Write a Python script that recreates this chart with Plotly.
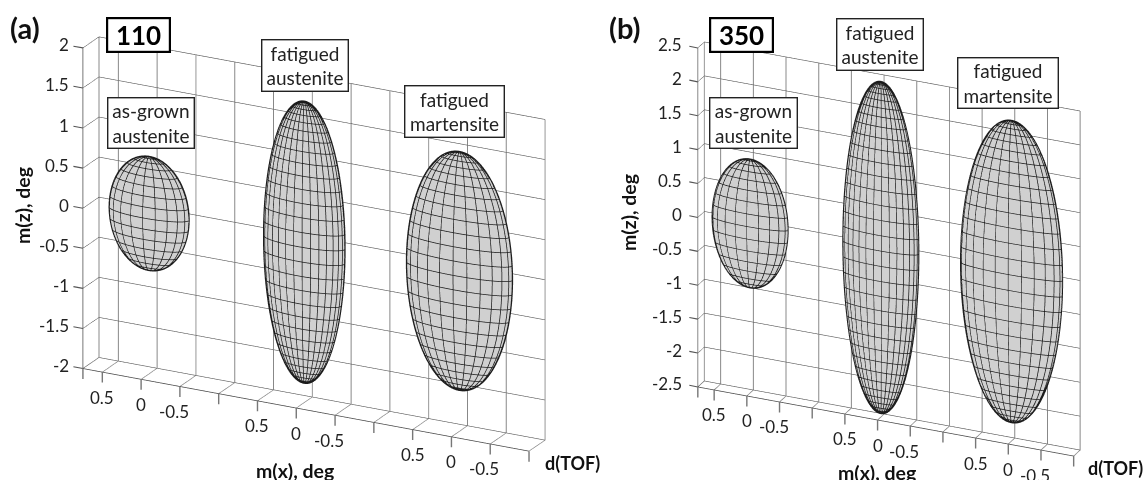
import numpy as np
import plotly.graph_objects as go

# ---- data ----
X_TICK_POS = [0, 0.5, 1.5, 2.5, 3.5, 4.5, 5.5, 6.5, 7.5, 8.5, 9.5, 10.5, 11.5]
X_TICK_TXT = ["", "0.5", "0", "-0.5", "", "0.5", "0", "-0.5", "", "0.5", "0", "-0.5", ""]
X_RANGE = [0, 11.5]
PHASES = ["as-grown austenite", "fatigued austenite", "fatigued martensite"]
CENTER_U = [1.5, 5.5, 9.5]

Z_TICKS_A = [2, 1.5, 1, 0.5, 0, -0.5, -1, -1.5, -2]
SEMI_MX_A = [0.51, 0.52, 0.68]      # half width, deg
SEMI_MZ_A = [0.71, 1.76, 1.49]      # half height, deg

Z_TICKS_B = [2.5, 2, 1.5, 1, 0.5, 0, -0.5, -1, -1.5, -2, -2.5]
SEMI_MX_B = [0.58, 0.58, 0.78]
SEMI_MZ_B = [0.95, 2.45, 2.23]

N_LAT_A = [16, 30, 26]
N_LON_A = [20, 30, 24]
N_LAT_B = [16, 34, 30]
N_LON_B = [20, 30, 24]

FONT = "Lato"
LINE = "#1c1c1c"

EYE_A = np.array([0.430, -0.829, 0.357]) * 3
EYE_B = np.array([0.372, -0.832, 0.411]) * 3
ASPECT_A = np.array([1.464, 0.1016, 1]) * 1.4545
ASPECT_B = np.array([1.107, 0.0429, 1]) * 1.61


def ellipsoid(theta, phi, uc, rx, ry, rz, shrink=1.0):
    theta, phi = np.broadcast_arrays(theta, phi)
    z = rz * np.cos(theta) * shrink
    x = uc + 2 * rx * shrink * np.sin(theta) * np.cos(phi)
    y = 0.5 + ry * shrink * np.sin(theta) * np.sin(phi)
    return x, y, z


def add_ellipsoid(fig, scene, uc, rx, ry, rz, nlat, nlon, aspect, eye, zspan):
    th, ph = np.meshgrid(np.linspace(0, np.pi, 61), np.linspace(0, 2 * np.pi, 121), indexing="ij")
    x, y, z = ellipsoid(th, ph, uc, rx, ry, rz, 0.985)
    fig.add_trace(go.Surface(
        x=x, y=y, z=z, scene=scene, showscale=False, hoverinfo="skip",
        colorscale=[[0, "#d0d0d0"], [1, "#d0d0d0"]],
        lighting=dict(ambient=1, diffuse=0, specular=0, roughness=1, fresnel=0),
    ))
    lx, ly, lz = [], [], []
    t = np.linspace(0, np.pi, 81)
    for p in np.linspace(0, 2 * np.pi, nlon, endpoint=False):
        a, b, c = ellipsoid(t, p, uc, rx, ry, rz)
        lx += a.tolist() + [None]; ly += b.tolist() + [None]; lz += c.tolist() + [None]
    p = np.linspace(0, 2 * np.pi, 121)
    for k in range(1, nlat):
        a, b, c = ellipsoid(np.pi * k / nlat, p, uc, rx, ry, rz)
        lx += a.tolist() + [None]; ly += b.tolist() + [None]; lz += c.tolist() + [None]
    fig.add_trace(go.Scatter3d(
        x=lx, y=ly, z=lz, scene=scene, mode="lines", hoverinfo="skip", showlegend=False,
        line=dict(color=LINE, width=1.5),
    ))
    # outline: the curve of the ellipsoid seen edge-on from the camera
    scale = np.array([aspect[0] / (X_RANGE[1] - X_RANGE[0]), aspect[1], aspect[2] / zspan])
    radii = np.array([2 * rx, ry, rz])
    n = eye / (radii * scale)
    n = n / np.linalg.norm(n)
    e1 = np.cross(n, [0, 0, 1.0]); e1 /= np.linalg.norm(e1)
    e2 = np.cross(n, e1)
    s = np.linspace(0, 2 * np.pi, 241)
    w = np.outer(np.cos(s), e1) + np.outer(np.sin(s), e2)
    fig.add_trace(go.Scatter3d(
        x=uc + radii[0] * w[:, 0], y=0.5 + radii[1] * w[:, 1], z=radii[2] * w[:, 2],
        scene=scene, mode="lines", hoverinfo="skip", showlegend=False,
        line=dict(color="#222222", width=2),
    ))


def scene_layout(dom_x, dom_y, zticks, aspect, eye, ztick_gap, ztick_len, xtick_len):
    zr = [min(zticks), max(zticks)]
    font = dict(family=FONT, size=17, color="#222")
    ann = []
    for v in zticks:
        ann.append(dict(x=0, y=0, z=v, text=f"{v:g}", showarrow=False, xanchor="right", xshift=-ztick_gap, yshift=3,
                        font=font))
        ann.append(dict(x=0, y=0, z=v, text="", showarrow=True, arrowhead=0, arrowwidth=1.1, arrowcolor="#555",
                        ax=-ztick_len, ay=-2, standoff=0))
    for u, txt in zip(X_TICK_POS, X_TICK_TXT):
        if txt:
            ann.append(dict(x=u, y=0, z=zr[0], text=txt, showarrow=False, yshift=-xtick_len - 13,
                            xshift=-6 if txt.startswith("-") else 0, font=font))
        ann.append(dict(x=u, y=0, z=zr[0], text="", showarrow=True, arrowhead=0, arrowwidth=1.4, arrowcolor="#777",
                        ax=0, ay=xtick_len, standoff=0))
    return dict(
        domain=dict(x=dom_x, y=dom_y),
        aspectmode="manual",
        aspectratio=dict(x=aspect[0], y=aspect[1], z=aspect[2]),
        camera=dict(eye=dict(x=eye[0], y=eye[1], z=eye[2]), up=dict(x=0, y=0, z=1),
                    center=dict(x=0, y=0, z=0), projection=dict(type="orthographic")),
        xaxis=dict(range=X_RANGE, tickmode="array", tickvals=X_TICK_POS,
                   showticklabels=False, showgrid=True, gridcolor="#888888", gridwidth=2, title="",
                   showline=True, linecolor="#444", linewidth=1.5, ticks="", zeroline=False,
                   showbackground=False, showspikes=False),
        yaxis=dict(range=[0, 1], tickmode="array", tickvals=[], showticklabels=False, showgrid=False, title="",
                   showline=False, ticks="", zeroline=False, showbackground=False, showspikes=False),
        zaxis=dict(range=zr, tickmode="array", tickvals=zticks, showticklabels=False, showgrid=True,
                   gridcolor="#505050", gridwidth=1.2, title="", showline=True, linecolor="#777", linewidth=2,
                   ticks="", zeroline=False, showbackground=False, showspikes=False),
        annotations=ann,
    )


fig = go.Figure()
for i in range(3):
    add_ellipsoid(fig, "scene", CENTER_U[i], SEMI_MX_A[i], 0.4, SEMI_MZ_A[i], N_LAT_A[i], N_LON_A[i],
                  ASPECT_A, EYE_A, 4.0)
for i in range(3):
    add_ellipsoid(fig, "scene2", CENTER_U[i], SEMI_MX_B[i], 0.5, SEMI_MZ_B[i], N_LAT_B[i], N_LON_B[i],
                  ASPECT_B, EYE_B, 5.0)


def box(x0, x1, y0, y1, text, size=19, bold=False, bw=1.4):
    return dict(
        xref="paper", yref="paper", x=(x0 + x1) / 2 / 1148, y=1 - (y0 + y1) / 2 / 480,
        width=x1 - x0 - 2 * bw, height=y1 - y0 - 2 * bw, text=f"<b>{text}</b>" if bold else text,
        showarrow=False, bgcolor="white", bordercolor="#222" if not bold else "#000", borderwidth=bw, borderpad=0,
        align="center", valign="middle", font=dict(family=FONT, size=size, color="#222" if not bold else "#000"),
        xanchor="center", yanchor="middle",
    )


def label(x, y, text, size=19.5, angle=0):
    return dict(xref="paper", yref="paper", x=x / 1148, y=1 - y / 480, text=f"<b>{text}</b>", showarrow=False,
                textangle=angle, xanchor="center", yanchor="middle",
                font=dict(family=FONT, size=size, color="#111"))


annotations = [
    label(25, 27, "(a)", 29), label(625, 27, "(b)", 29),
    box(106, 171, 17, 53, "110", 26, True, 2.2), box(709, 774, 17, 53, "350", 26, True, 2.2),
    box(107, 195, 97, 149, "as-grown<br>austenite"),
    box(261, 349, 39, 92, "fatigued<br>austenite"),
    box(404, 505, 85, 138, "fatigued<br>martensite"),
    box(709, 798, 97, 149, "as-grown<br>austenite"),
    box(836, 924, 18, 71, "fatigued<br>austenite"),
    box(957, 1059, 57, 109, "fatigued<br>martensite"),
    label(22, 206, "m(z), deg", 19.5, -90), label(628, 212, "m(z), deg", 19.5, -90),
    label(295, 470, "m(x), deg"), label(877, 472, "m(x), deg"),
    label(572, 463, "d(TOF)", 18), label(1115, 468, "d(TOF)", 18),
]

fig.update_layout(
    width=1148, height=480, margin=dict(l=0, r=0, t=0, b=0), paper_bgcolor="white", showlegend=False,
    scene=scene_layout([27 / 1148, 601 / 1148], [0, 472 / 480], Z_TICKS_A, ASPECT_A, EYE_A, 12, 11, 12),
    scene2=scene_layout([630 / 1148, 1], [0, 462 / 480], Z_TICKS_B, ASPECT_B, EYE_B, 14, 10, 12),
    annotations=annotations,
)
fig.write_html("out.html", post_script="document.body.style.margin='0';", config={"displayModeBar": False})
